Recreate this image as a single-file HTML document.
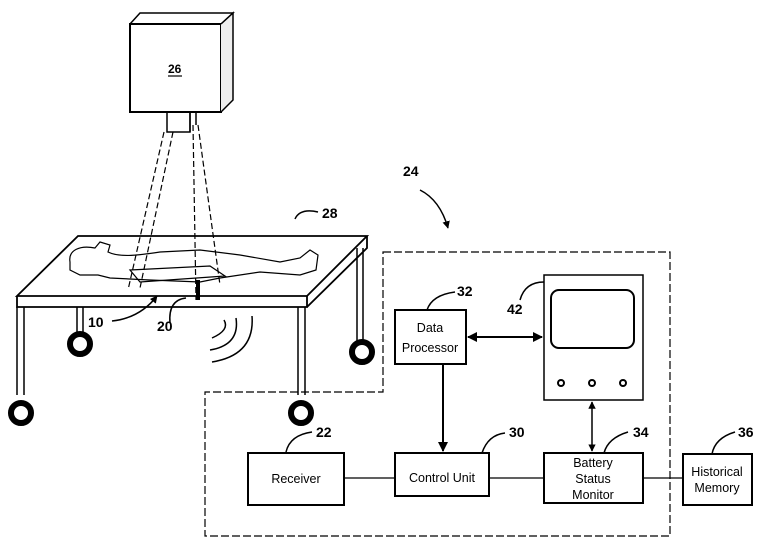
<!DOCTYPE html>
<html><head><meta charset="utf-8"><style>
html,body{margin:0;padding:0;background:#fff}
svg{display:block}
text{font-family:"Liberation Sans",sans-serif;fill:#000}
</style></head><body>
<svg width="765" height="549" viewBox="0 0 765 549" xmlns="http://www.w3.org/2000/svg">
<defs>
<marker id="ah" viewBox="0 0 10 10" refX="9" refY="5" markerWidth="5" markerHeight="5" orient="auto-start-reverse"><path d="M0,0L10,5L0,10z" fill="#000"/></marker>
</defs>
<g fill="none" stroke="#000" stroke-width="1.5">
<rect x="130" y="24" width="91" height="88" stroke-width="2"/>
<path d="M130,24L140,13L233,13L221,24"/>
<path d="M221,24L233,13L233,100L221,112" fill="#eee"/>
<rect x="167" y="112" width="23" height="20"/>
<path d="M190,112V132M196,112V125"/>
<g stroke-dasharray="6,3" stroke-width="1.2">
<path d="M164,132L128,290"/><path d="M173,132L140,288"/>
<path d="M193,125L196,300"/><path d="M198,125L220,285"/>
</g>
<path d="M17,296L78,236L367,236L307,296Z" stroke-width="1.8"/>
<path d="M17,296V307H307V296M307,307L367,248V236" stroke-width="1.8"/>
<path d="M17,307V395M24,307V395M298,307V395M305,307V395M77,307V338M83,307V338M357,248V345M363,248V345"/>
<path d="M70,262C68,250 80,245 95,248L100,242L110,245L108,252C120,258 140,255 160,252L200,250L240,255L280,262L300,258L310,250L318,255L316,270L300,275L260,272L220,278L200,282L150,280L110,278L98,275L80,275L70,270Z" stroke-width="1.2"/>
<path d="M130,270L210,266L225,276L140,282Z" stroke-width="1.2"/>
<path d="M198,280V300" stroke-width="4"/>
</g>
<g fill="#fff" stroke="#000" stroke-width="6">
<circle cx="21" cy="413" r="10"/><circle cx="301" cy="413" r="10"/>
<circle cx="80" cy="344" r="10"/><circle cx="362" cy="352" r="10"/>
</g>
<g fill="none" stroke="#000" stroke-width="1.5">
<path d="M224,320Q230,330 212,338M236,318Q240,345 210,350M252,316Q255,355 212,362"/>
<path d="M295,219Q300,208 318,212"/>
<path d="M112,321Q140,318 157,296" marker-end="url(#ah)"/>
<path d="M170,323Q168,300 186,298"/>
<path d="M420,190Q440,200 448,228" marker-end="url(#ah)"/>
<path d="M383,252H670V536H205V392H383Z" stroke-dasharray="8,3" stroke-width="1.2"/>
<rect x="395" y="310" width="71" height="54" stroke-width="2"/>
<rect x="544" y="275" width="99" height="125" stroke-width="1.5"/>
<rect x="551" y="290" width="83" height="58" rx="8" stroke-width="2"/>
<circle cx="561" cy="383" r="3" stroke-width="2"/><circle cx="592" cy="383" r="3" stroke-width="2"/><circle cx="623" cy="383" r="3" stroke-width="2"/>
<rect x="395" y="453" width="94" height="43" stroke-width="2"/>
<rect x="544" y="453" width="99" height="50" stroke-width="2"/>
<rect x="683" y="454" width="69" height="51" stroke-width="2"/>
<rect x="248" y="453" width="96" height="52" stroke-width="2"/>
<path d="M443,364V451" marker-end="url(#ah)" stroke-width="2"/>
<path d="M468,337H542" marker-start="url(#ah)" marker-end="url(#ah)" stroke-width="2"/>
<path d="M592,402V451" marker-start="url(#ah)" marker-end="url(#ah)" stroke-width="1.5"/>
<path d="M344,478H395M489,478H544M643,478H683" stroke-width="1.2"/>
<path d="M427,310Q432,295 455,292"/><path d="M520,300Q525,282 544,282"/>
<path d="M482,453Q488,435 505,433"/><path d="M604,453Q608,438 628,432"/>
<path d="M712,454Q715,438 735,432"/><path d="M286,452Q290,435 312,432"/>
<path d="M168,76H182" stroke-width="1.2"/>
</g>
<g font-size="14" font-weight="bold">
<text x="168" y="73" font-size="12">26</text>
<text x="322" y="218">28</text>
<text x="403" y="176">24</text>
<text x="88" y="327">10</text>
<text x="157" y="331">20</text>
<text x="457" y="296">32</text>
<text x="507" y="314">42</text>
<text x="509" y="437">30</text>
<text x="633" y="437">34</text>
<text x="738" y="437">36</text>
<text x="316" y="437">22</text>
</g>
<g font-size="12.5" text-anchor="middle">
<text x="430" y="332">Data</text><text x="430" y="352">Processor</text>
<text x="442" y="482">Control Unit</text>
<text x="593" y="467">Battery</text><text x="593" y="483">Status</text><text x="593" y="499">Monitor</text>
<text x="717" y="476">Historical</text><text x="717" y="492">Memory</text>
<text x="296" y="483">Receiver</text>
</g>
</svg>
</body></html>
